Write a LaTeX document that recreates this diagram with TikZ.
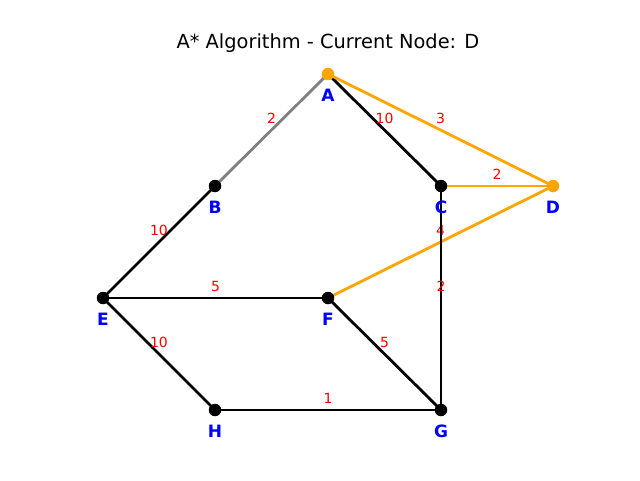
\documentclass[tikz,border=0pt]{standalone}
\usepackage{fontspec}
\setmainfont{DejaVu Sans}
\usepackage{tikz}
\definecolor{pathorange}{RGB}{255,165,0}
\definecolor{seengray}{RGB}{128,128,128}
\definecolor{namblue}{RGB}{0,0,255}
\definecolor{costred}{RGB}{255,0,0}
\usetikzlibrary{positioning, backgrounds}

\begin{document}
\begin{tikzpicture}[
  x=1pt, y=-1pt,
  every node/.style={font=\fontsize{14}{16}\selectfont},
  vert/.style={circle, fill=black, inner sep=0pt, minimum size=12.5pt,
    label={[namelab, label distance=8.5pt]below:#1}},
  hot/.style={fill=pathorange},
  namelab/.style={font=\fontsize{17}{18}\selectfont\bfseries, text=namblue, inner sep=0pt},
  edge/.style={line width=2.8pt, black},
  weight/.style={midway, yshift=12pt, inner sep=0pt, text=costred,
    font=\fontsize{14}{15}\selectfont},
]
  \useasboundingbox (0,0) rectangle (640,480);

  \node[font=\fontsize{19.4}{22}\selectfont] (title) at (328,43)
    {A* Algorithm - Current Node: D};

  % graph vertices
  \node[vert=A, hot] (A) at (328,74) {};
  \node[vert=B] (B) at (215,186) {};
  \node[vert=C] (C) at (441,186) {};
  \node[vert=D, hot] (D) at (553,186) {};
  \node[vert=E] (E) at (103,298) {};
  \node[vert=F] (F) at (328,298) {};
  \node[vert=G] (G) at (441,410) {};
  \node[vert=H] (H) at (215,410) {};

  % edges, kept under the vertices
  \begin{pgfonlayer}{background}
  \draw[edge, seengray] (A.center) -- node[weight] {2} (B.center);
  \draw[edge] (A.center) -- node[weight] {10} (C.center);
  \draw[edge, pathorange] (A.center) -- node[weight] {3} (D.center);
  \draw[edge, pathorange] (C.center) -- node[weight] {2} (D.center);
  \draw[edge, pathorange] (D.center) -- node[weight] {4} (F.center);
  \draw[edge] (B.center) -- node[weight] {10} (E.center);
  \draw[edge] (E.center) -- node[weight] {5} (F.center);
  \draw[edge] (E.center) -- node[weight] {10} (H.center);
  \draw[edge] (F.center) -- node[weight] {5} (G.center);
  \draw[edge] (C.center) -- node[weight] {2} (G.center);
  \draw[edge] (H.center) -- node[weight] {1} (G.center);
  \end{pgfonlayer}
\end{tikzpicture}
\end{document}
